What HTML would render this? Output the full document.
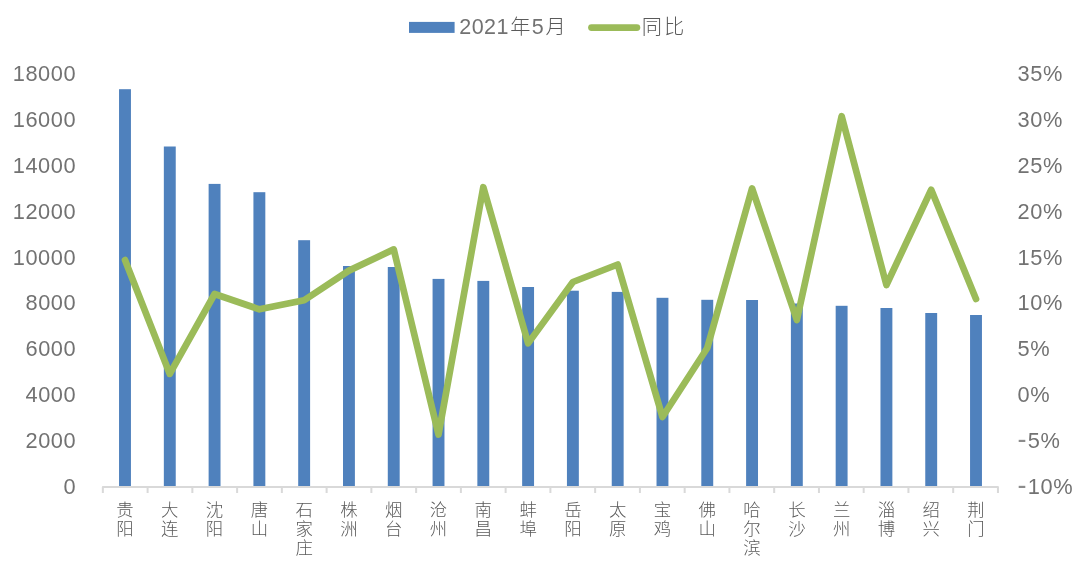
<!DOCTYPE html>
<html lang="zh-CN">
<head>
<meta charset="utf-8">
<title>2021年5月 同比</title>
<style>
html,body{margin:0;padding:0;background:#fff;}
body{width:1080px;height:572px;overflow:hidden;}
svg{display:block;}
text{font-family:"Liberation Sans", "Noto Sans CJK SC", sans-serif;font-weight:300;fill:#727272;}
.num{font-size:21.8px;letter-spacing:0.6px;}
.cat{font-size:17.4px;fill:#5a5a5a;}
.leg{font-size:21.5px;}
.cjk{font-size:20.2px;fill:#5a5a5a;}
</style>
</head>
<body>
<svg width="1080" height="572" viewBox="0 0 1080 572">
<rect x="0" y="0" width="1080" height="572" fill="#ffffff"/>
<g fill="#4F81BD" shape-rendering="auto">
<rect x="119.04" y="89.20" width="11.90" height="397.70"/>
<rect x="163.84" y="146.50" width="11.90" height="340.40"/>
<rect x="208.62" y="183.90" width="11.90" height="303.00"/>
<rect x="253.42" y="192.20" width="11.90" height="294.70"/>
<rect x="298.20" y="240.20" width="11.90" height="246.70"/>
<rect x="343.00" y="266.00" width="11.90" height="220.90"/>
<rect x="387.79" y="267.00" width="11.90" height="219.90"/>
<rect x="432.57" y="278.90" width="11.90" height="208.00"/>
<rect x="477.36" y="280.90" width="11.90" height="206.00"/>
<rect x="522.15" y="287.00" width="11.90" height="199.90"/>
<rect x="566.94" y="290.70" width="11.90" height="196.20"/>
<rect x="611.74" y="291.90" width="11.90" height="195.00"/>
<rect x="656.52" y="297.80" width="11.90" height="189.10"/>
<rect x="701.31" y="299.80" width="11.90" height="187.10"/>
<rect x="746.11" y="300.00" width="11.90" height="186.90"/>
<rect x="790.89" y="303.50" width="11.90" height="183.40"/>
<rect x="835.68" y="305.80" width="11.90" height="181.10"/>
<rect x="880.47" y="308.00" width="11.90" height="178.90"/>
<rect x="925.26" y="313.00" width="11.90" height="173.90"/>
<rect x="970.05" y="315.00" width="11.90" height="171.90"/>
</g>
<g stroke="#D9D9D9" stroke-width="2" fill="none">
<path d="M102.85 492.90 V486.90 H997.95 V492.90" stroke-linejoin="round"/>
<path d="M147.60 486.90 V492.90M192.36 486.90 V492.90M237.12 486.90 V492.90M281.87 486.90 V492.90M326.62 486.90 V492.90M371.38 486.90 V492.90M416.13 486.90 V492.90M460.89 486.90 V492.90M505.64 486.90 V492.90M550.40 486.90 V492.90M595.15 486.90 V492.90M639.91 486.90 V492.90M684.67 486.90 V492.90M729.42 486.90 V492.90M774.18 486.90 V492.90M818.93 486.90 V492.90M863.69 486.90 V492.90M908.44 486.90 V492.90M953.20 486.90 V492.90"/>
</g>
<polyline points="124.99,260.00 169.78,373.90 214.57,294.00 259.37,309.30 304.15,300.20 348.94,270.60 393.74,249.40 438.52,434.60 483.31,187.20 528.11,343.40 572.89,282.00 617.69,264.50 662.48,417.00 707.26,348.00 752.06,188.40 796.85,320.00 841.63,116.20 886.42,285.00 931.22,189.70 976.00,299.00" fill="none" stroke="#9BBB59" stroke-width="6.7" stroke-linecap="round" stroke-linejoin="round"/>
<text class="num" x="76.3" y="81.00" text-anchor="end">18000</text>
<text class="num" x="76.3" y="126.88" text-anchor="end">16000</text>
<text class="num" x="76.3" y="172.76" text-anchor="end">14000</text>
<text class="num" x="76.3" y="218.63" text-anchor="end">12000</text>
<text class="num" x="76.3" y="264.51" text-anchor="end">10000</text>
<text class="num" x="76.3" y="310.39" text-anchor="end">8000</text>
<text class="num" x="76.3" y="356.27" text-anchor="end">6000</text>
<text class="num" x="76.3" y="402.14" text-anchor="end">4000</text>
<text class="num" x="76.3" y="448.02" text-anchor="end">2000</text>
<text class="num" x="76.3" y="493.90" text-anchor="end">0</text>
<text class="num" x="1017.5" y="81.00">35%</text>
<text class="num" x="1017.5" y="126.88">30%</text>
<text class="num" x="1017.5" y="172.76">25%</text>
<text class="num" x="1017.5" y="218.63">20%</text>
<text class="num" x="1017.5" y="264.51">15%</text>
<text class="num" x="1017.5" y="310.39">10%</text>
<text class="num" x="1017.5" y="356.27">5%</text>
<text class="num" x="1017.5" y="402.14">0%</text>
<text class="num" x="1017.5" y="448.02"><tspan font-size="27" dy="0.2" letter-spacing="0" fill="#8c8c8c">-</tspan><tspan dy="-0.2" dx="1.2">5%</tspan></text>
<text class="num" x="1017.5" y="493.90"><tspan font-size="27" dy="0.2" letter-spacing="0" fill="#8c8c8c">-</tspan><tspan dy="-0.2" dx="1.2">10%</tspan></text>
<text class="cat" text-anchor="middle"><tspan x="124.99" y="516.00">贵</tspan><tspan x="124.99" y="535.20">阳</tspan></text>
<text class="cat" text-anchor="middle"><tspan x="169.78" y="516.00">大</tspan><tspan x="169.78" y="535.20">连</tspan></text>
<text class="cat" text-anchor="middle"><tspan x="214.57" y="516.00">沈</tspan><tspan x="214.57" y="535.20">阳</tspan></text>
<text class="cat" text-anchor="middle"><tspan x="259.37" y="516.00">唐</tspan><tspan x="259.37" y="535.20">山</tspan></text>
<text class="cat" text-anchor="middle"><tspan x="304.15" y="516.00">石</tspan><tspan x="304.15" y="535.20">家</tspan><tspan x="304.15" y="554.40">庄</tspan></text>
<text class="cat" text-anchor="middle"><tspan x="348.94" y="516.00">株</tspan><tspan x="348.94" y="535.20">洲</tspan></text>
<text class="cat" text-anchor="middle"><tspan x="393.74" y="516.00">烟</tspan><tspan x="393.74" y="535.20">台</tspan></text>
<text class="cat" text-anchor="middle"><tspan x="438.52" y="516.00">沧</tspan><tspan x="438.52" y="535.20">州</tspan></text>
<text class="cat" text-anchor="middle"><tspan x="483.31" y="516.00">南</tspan><tspan x="483.31" y="535.20">昌</tspan></text>
<text class="cat" text-anchor="middle"><tspan x="528.11" y="516.00">蚌</tspan><tspan x="528.11" y="535.20">埠</tspan></text>
<text class="cat" text-anchor="middle"><tspan x="572.89" y="516.00">岳</tspan><tspan x="572.89" y="535.20">阳</tspan></text>
<text class="cat" text-anchor="middle"><tspan x="617.69" y="516.00">太</tspan><tspan x="617.69" y="535.20">原</tspan></text>
<text class="cat" text-anchor="middle"><tspan x="662.48" y="516.00">宝</tspan><tspan x="662.48" y="535.20">鸡</tspan></text>
<text class="cat" text-anchor="middle"><tspan x="707.26" y="516.00">佛</tspan><tspan x="707.26" y="535.20">山</tspan></text>
<text class="cat" text-anchor="middle"><tspan x="752.06" y="516.00">哈</tspan><tspan x="752.06" y="535.20">尔</tspan><tspan x="752.06" y="554.40">滨</tspan></text>
<text class="cat" text-anchor="middle"><tspan x="796.85" y="516.00">长</tspan><tspan x="796.85" y="535.20">沙</tspan></text>
<text class="cat" text-anchor="middle"><tspan x="841.63" y="516.00">兰</tspan><tspan x="841.63" y="535.20">州</tspan></text>
<text class="cat" text-anchor="middle"><tspan x="886.42" y="516.00">淄</tspan><tspan x="886.42" y="535.20">博</tspan></text>
<text class="cat" text-anchor="middle"><tspan x="931.22" y="516.00">绍</tspan><tspan x="931.22" y="535.20">兴</tspan></text>
<text class="cat" text-anchor="middle"><tspan x="976.00" y="516.00">荆</tspan><tspan x="976.00" y="535.20">门</tspan></text>
<rect x="409" y="21.9" width="45.6" height="11" fill="#4F81BD"/>
<text class="leg" y="34"><tspan x="459.2" letter-spacing="0.5">2021</tspan><tspan class="cjk" x="510.2">年</tspan><tspan x="531.8">5</tspan><tspan class="cjk" x="545.6">月</tspan></text>
<path d="M591.5 27.6 H636.9" stroke="#9BBB59" stroke-width="6.8" stroke-linecap="round" fill="none"/>
<text class="leg cjk" x="641.8" y="33.9" letter-spacing="2.1">同比</text>
</svg>
</body>
</html>
